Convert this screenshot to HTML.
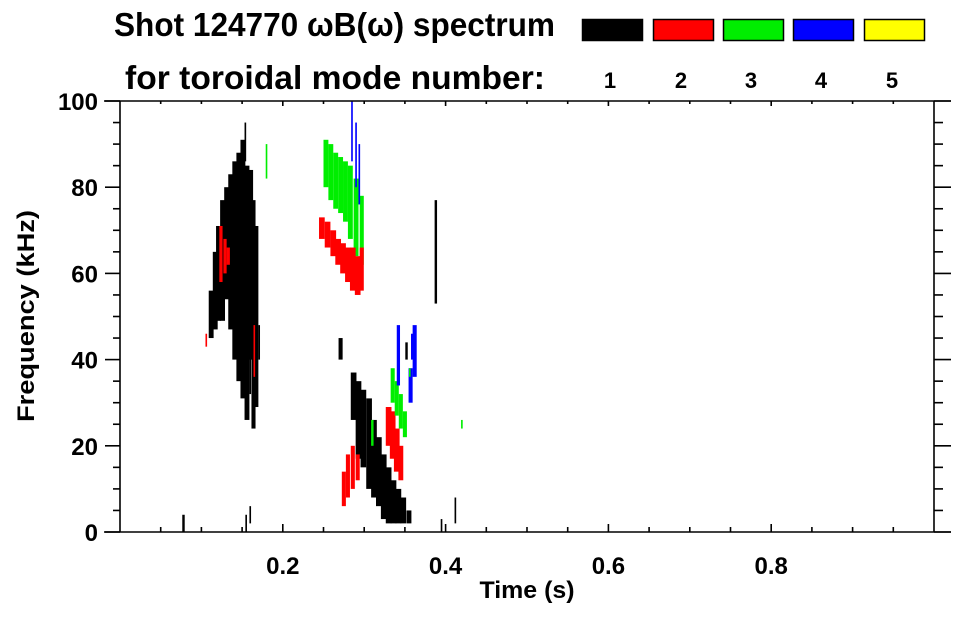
<!DOCTYPE html>
<html><head><meta charset="utf-8"><style>
html,body{margin:0;padding:0;background:#fff;}
body{width:963px;height:615px;overflow:hidden;font-family:"Liberation Sans",Arial,sans-serif;}
svg text{font-family:"Liberation Sans",Arial,sans-serif;font-weight:bold;fill:#000;}
</style></head><body>
<svg id="chart" width="963" height="615" viewBox="0 0 963 615" xmlns="http://www.w3.org/2000/svg">
<g>
<text x="114" y="36" font-size="33" textLength="441" lengthAdjust="spacingAndGlyphs">Shot 124770 ωB(ω) spectrum</text>
<text x="125" y="89" font-size="33" textLength="420" lengthAdjust="spacingAndGlyphs">for toroidal mode number:</text>
</g>
<g id="legend"></g>
<g id="marks"></g>
<g id="axes"></g>
<text x="527" y="598" font-size="24" textLength="95" lengthAdjust="spacingAndGlyphs" text-anchor="middle">Time (s)</text>
<text transform="translate(34,316) rotate(-90)" font-size="24" textLength="212" lengthAdjust="spacingAndGlyphs" text-anchor="middle">Frequency (kHz)</text>
</svg>
<script>
const modeNumbers=[1,2,3,4,5];
const modeColors=['#000000','#ff0000','#00ee00','#0000ff','#ffff00'];
const xTickValues=[0.2,0.4,0.6,0.8];
const xTickLabels=['0.2','0.4','0.6','0.8'];
const yTickValues=[0,20,40,60,80,100];
const yTickLabels=['0','20','40','60','80','100'];
// spectrogram features: mode index, time (s), f low (kHz), f high (kHz), width (s)
const featMode=[0,0,0,0,0,0,0,0,0,0,0,0,0,0,0,0, 1,1,1,1, 2,2,2,2,2,2,2,2,2, 3,3,3, 1,1,1,1,1,1,1,1,1,1, 0,
 0,0,0,0,0,0,0,0,0,0,0,0,0,0, 1,1,1,1,1,1,1,1,1, 2,2,2,2, 3,3,3,3, 0,0,0,0,0,2,2,2];
const featTime=[0.112,0.117,0.121,0.126,0.131,0.136,0.141,0.146,0.151,0.156,0.161,0.164,0.168,0.154,0.171,0.160, 0.124,0.129,0.133,0.165, 0.253,0.259,0.265,0.271,0.277,0.283,0.290,0.297,0.180, 0.285,0.290,0.294, 0.248,0.255,0.262,0.268,0.274,0.280,0.286,0.292,0.297,0.106, 0.388,
 0.271,0.287,0.293,0.299,0.306,0.312,0.318,0.324,0.330,0.336,0.342,0.348,0.355,0.078, 0.275,0.280,0.286,0.292,0.330,0.335,0.340,0.345,0.290, 0.335,0.340,0.345,0.350, 0.362,0.360,0.357,0.342, 0.155,0.160,0.395,0.352,0.412,0.356,0.420,0.310];
const featLow=[45,47,49,49,54,47,40,35,31,26,40,24,29,86,40,32, 58,60,62,36, 80,77,75,74,72,68,64,62,82, 86,80,76, 68,66,64,62,60,58,56,55,56,43, 53,
 40,26,17,15,10,8,6,3,2,2,2,2,2,0, 6,8,10,12,20,17,14,12,60, 30,27,24,22, 36,40,30,34, 0,2,0,40,2,36,24,20];
const featHigh=[56,65,71,77,80,83,86,88,91,85,84,77,71,95,48,42, 71,68,66,48, 91,90,88,87,86,85,82,78,90, 100,95,90, 73,72,70,68,67,66,66,64,66,46, 77,
 45,37,35,33,31,26,22,18,15,12,10,8,5,4, 14,18,20,18,29,28,24,20,62, 38,35,32,28, 48,46,38,48, 4,6,3,44,8,38,26,26];
const featWidth=[0.006,0.006,0.006,0.006,0.006,0.006,0.006,0.006,0.006,0.006,0.005,0.005,0.004,0.002,0.002,0.002, 0.004,0.004,0.004,0.002, 0.006,0.006,0.006,0.006,0.006,0.006,0.006,0.005,0.002, 0.002,0.002,0.002, 0.007,0.007,0.007,0.007,0.007,0.007,0.007,0.007,0.005,0.002, 0.003,
 0.005,0.007,0.007,0.007,0.007,0.007,0.007,0.007,0.007,0.007,0.007,0.007,0.006,0.003, 0.005,0.005,0.005,0.005,0.007,0.007,0.007,0.006,0.002, 0.005,0.005,0.005,0.005, 0.005,0.005,0.005,0.004, 0.002,0.002,0.002,0.003,0.002,0.002,0.002,0.003];

const NS='http://www.w3.org/2000/svg';
const X0=120,X1=934,Y0=532,Y1=101;
function xs(t){return X0+(t-0)/(1-0)*(X1-X0);}
function ys(f){return Y0-(f-0)/(100-0)*(Y0-Y1);}
function mk(tag,attrs,parent){const e=document.createElementNS(NS,tag);for(const k in attrs)e.setAttribute(k,attrs[k]);parent.appendChild(e);return e;}

const legend=document.getElementById('legend');
const boxX=[582,653,723,793,864];
modeNumbers.forEach((m,i)=>{
  const r=mk('rect',{x:boxX[i]+0.5,y:19.5,width:60,height:21,fill:modeColors[i],stroke:'#000','stroke-width':1.5},legend);
  
  
  const t=mk('text',{x:boxX[i]+28,y:88,'font-size':22,'text-anchor':'middle'},legend);
  t.textContent=String(m);
  
  
});

const marks=document.getElementById('marks');
for(let i=0;i<featMode.length;i++){
  const x=xs(featTime[i]-featWidth[i]/2),w=xs(featTime[i]+featWidth[i]/2)-x;
  const y=ys(featHigh[i]),h=ys(featLow[i])-y;
  const r=mk('rect',{x:x,y:y,width:Math.max(w,1),height:Math.max(h,1),fill:modeColors[featMode[i]]},marks);
  
  
}

const ax=document.getElementById('axes');
const sw={stroke:'#000','stroke-width':1.6,fill:'none'};
function line(x1,y1,x2,y2,name){const l=mk('line',Object.assign({x1,y1,x2,y2},sw),ax);return l;}
line(X0,Y1,X0,Y0,'y-axis-left');
line(X1,Y1,X1,Y0,'y-axis-right');
line(104,Y0,951,Y0,'x-axis-bottom');
line(104,Y1,951,Y1,'x-axis-top');
for(let v=0.05;v<1;v+=0.05){
  const major=Math.abs(v*5-Math.round(v*5))<1e-6;
  const x=xs(v);
  line(x,Y0,x,Y0-(major?8:5),'x-tick-bottom');
  line(x,Y1,x,Y1+(major?5:3),'x-tick-top');
}
for(let v=0;v<=100;v+=5){
  const major=v%20===0;const y=ys(v);
  line(X0-(major?15:7),y,X0,y,'y-tick-left');
  line(X1,y,X1+(major?17:9),y,'y-tick-right');
}
xTickValues.forEach((v,i)=>{
  const t=mk('text',{x:xs(v),y:574,'font-size':24,'text-anchor':'middle'},ax);
  t.textContent=xTickLabels[i];
  
  
});
yTickValues.forEach((v,i)=>{
  const t=mk('text',{x:98,y:ys(v)+9,'font-size':24,'text-anchor':'end'},ax);
  t.textContent=yTickLabels[i];
  
  
});
</script>
</body></html>
